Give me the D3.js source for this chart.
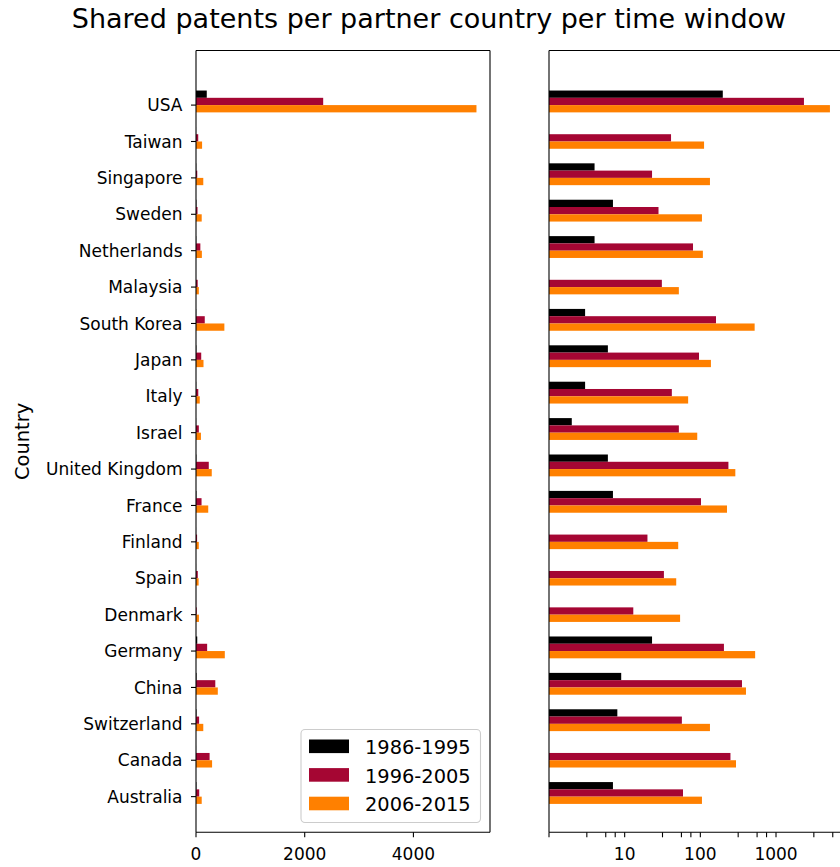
<!DOCTYPE html>
<html>
<head>
<meta charset="utf-8">
<script src="https://cdn.jsdelivr.net/npm/d3@7"></script>
<style>
  html, body { margin: 0; padding: 0; background: #fff; }
  svg { display: block; font-family: "DejaVu Sans", sans-serif; }
</style>
</head>
<body>
<svg id="chart" width="840" height="867"></svg>
<script>
// Countries, listed top to bottom as they appear on the y axis
const countries = ["USA", "Taiwan", "Singapore", "Sweden", "Netherlands", "Malaysia",
  "South Korea", "Japan", "Italy", "Israel", "United Kingdom", "France", "Finland",
  "Spain", "Denmark", "Germany", "China", "Switzerland", "Canada", "Australia"];

// Shared patents per time window, same order as countries
const win1986 = [198, 1, 4, 7, 4, 0, 3, 6, 3, 2, 6, 7, 1, 1, 0, 23, 9, 8, 1, 7];
const win1996 = [2340, 41, 23, 28, 80, 31, 161, 96, 42, 52, 235, 102, 20, 33, 13, 205, 355, 57, 250, 59];
const win2006 = [5160, 112, 134, 105, 108, 52, 522, 138, 69, 91, 290, 225, 51, 48, 54, 530, 401, 134, 296, 105];

const seriesNames = ["1986-1995", "1996-2005", "2006-2015"];
const seriesColors = ["#000000", "#a50633", "#ff8000"];

// Tick values
const linTicks = [0, 2000, 4000];
const logTicks = [1, 3.162, 5.623, 7.499, 10, 31.62, 56.23, 74.99, 100, 316.2, 562.3, 749.9, 1000, 3162, 5623];
const logTickLabels = { 10: "10", 100: "100", 1000: "1000" };

const series = [win1986, win1996, win2006];
const n = countries.length;

const svg = d3.select("#chart");
const plotTop = 50.5, plotBottom = 832.3;

// Category positions: index 0 at the bottom (Australia), n-1 at the top (USA)
const y = d3.scaleLinear().domain([-0.98, 20.5]).range([plotBottom, plotTop]);
const pos = i => n - 1 - i;
const barH = 0.2;

const xLin = d3.scaleLinear().domain([0, 5409]).range([196, 490]);
const xLog = d3.scaleLog().domain([1, 10 ** ((843 - 549) / 75.67)]).range([549, 843]);

// Title
svg.append("text")
  .attr("x", 429).attr("y", 28)
  .attr("text-anchor", "middle")
  .attr("font-size", 27)
  .attr("fill", "#000")
  .text("Shared patents per partner country per time window");

// Y label
svg.append("text")
  .attr("transform", `translate(28.5, ${(plotTop + plotBottom) / 2}) rotate(-90)`)
  .attr("text-anchor", "middle")
  .attr("font-size", 19.4)
  .text("Country");

function drawPanel(x, isLog) {
  const g = svg.append("g");
  series.forEach((vals, s) => {
    g.append("g").selectAll("rect")
      .data(vals.map((v, i) => ({ v, i })).filter(d => d.v > 0))
      .join("rect")
      .attr("x", x.range()[0])
      .attr("width", d => Math.max(0, x(d.v) - x.range()[0]))
      // black on top, then red, then orange just below the tick
      .attr("y", d => y(pos(d.i) + 0.4 - s * barH))
      .attr("height", y(0) - y(barH))
      .attr("fill", seriesColors[s]);
  });

  // x axis
  const ticks = isLog ? logTicks : linTicks;
  const axis = svg.append("g");
  ticks.forEach(t => {
    const tx = x(t);
    if (tx > 840) return;
    axis.append("line")
      .attr("x1", tx).attr("x2", tx)
      .attr("y1", plotBottom).attr("y2", plotBottom + 5)
      .attr("stroke", "#000").attr("stroke-width", 1.1);
    const lab = isLog ? logTickLabels[t] : d3.format("d")(t);
    if (lab) {
      axis.append("text")
        .attr("x", tx).attr("y", 859.5)
        .attr("text-anchor", "middle")
        .attr("font-size", 17)
        .text(lab);
    }
  });

  // frame
  const [x0, x1] = x.range();
  const frame = svg.append("g").attr("stroke", "#000").attr("stroke-width", 1.1).attr("fill", "none");
  frame.append("line").attr("x1", x0).attr("x2", x0).attr("y1", plotTop).attr("y2", plotBottom);
  frame.append("line").attr("x1", x1).attr("x2", x1).attr("y1", plotTop).attr("y2", plotBottom);
  frame.append("line").attr("x1", x0).attr("x2", x1).attr("y1", plotTop).attr("y2", plotTop);
  frame.append("line").attr("x1", x0).attr("x2", x1).attr("y1", plotBottom).attr("y2", plotBottom);
}

drawPanel(xLin, false);
drawPanel(xLog, true);

// y ticks and labels on the left panel
const yAxis = svg.append("g");
countries.forEach((c, i) => {
  const ty = y(pos(i));
  yAxis.append("line")
    .attr("x1", 191).attr("x2", 196)
    .attr("y1", ty).attr("y2", ty)
    .attr("stroke", "#000").attr("stroke-width", 1.1);
  yAxis.append("text")
    .attr("x", 182.5).attr("y", ty)
    .attr("dy", "0.36em")
    .attr("text-anchor", "end")
    .attr("font-size", 17)
    .text(c);
});

// Legend
const lg = svg.append("g");
lg.append("rect")
  .attr("x", 301).attr("y", 729.5)
  .attr("width", 179.5).attr("height", 93)
  .attr("rx", 4).attr("ry", 4)
  .attr("fill", "#fff").attr("fill-opacity", 0.8)
  .attr("stroke", "#cccccc").attr("stroke-width", 1.1);
seriesNames.forEach((name, s) => {
  const by = 739.5 + s * 28.6;
  lg.append("rect")
    .attr("x", 309).attr("y", by)
    .attr("width", 40).attr("height", 13.6)
    .attr("fill", seriesColors[s]);
  lg.append("text")
    .attr("x", 365).attr("y", by + 14.4)
    .attr("font-size", 19.4)
    .text(name);
});
</script>
</body>
</html>
